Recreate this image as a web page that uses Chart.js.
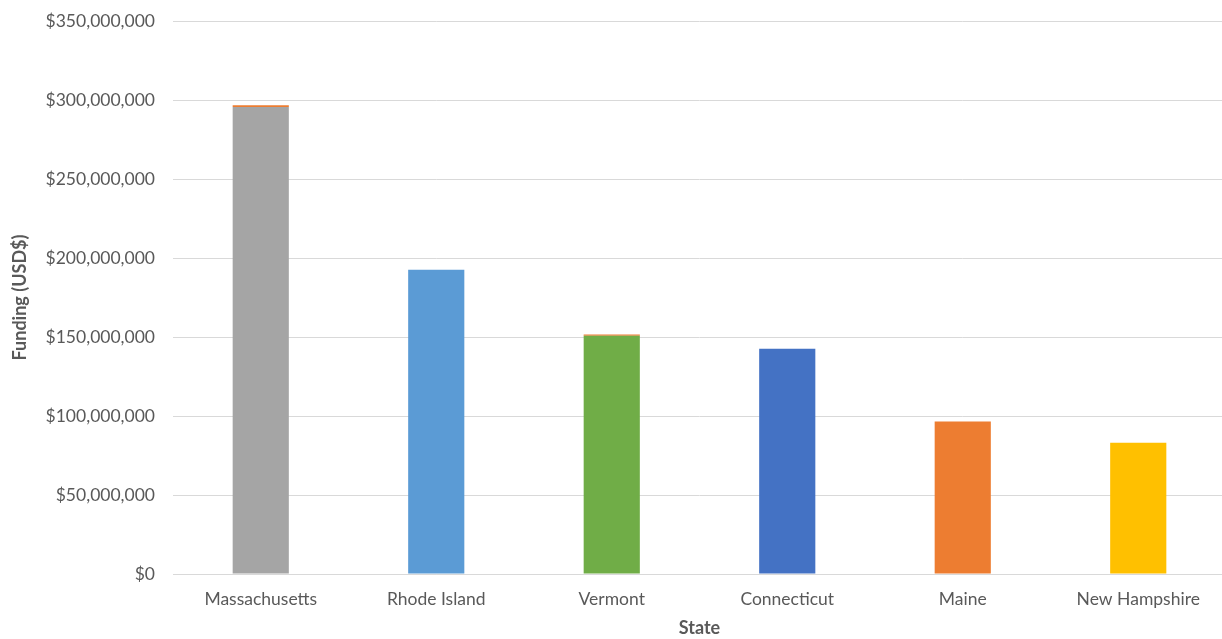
<!DOCTYPE html>
<html><head><meta charset="utf-8">
<script src="https://cdn.jsdelivr.net/npm/chart.js@4"></script>
<style>html,body{margin:0;padding:0;overflow:hidden;background:#fff}#wrap{width:1228px;height:639px;position:relative}</style>
</head><body><div id="wrap"><canvas id="c"></canvas></div>
<script>
const states = ["Massachusetts","Rhode Island","Vermont","Connecticut","Maine","New Hampshire"];
const mainFunding = [295500000, 192500000, 150800000, 142500000, 96500000, 83000000];
const otherFunding = [1200000, 0, 800000, 0, 0, 0];
const mainColors = ["#A5A5A5","#5B9BD5","#70AD47","#4472C4","#ED7D31","#FFC000"];
const yTicks = [0,50000000,100000000,150000000,200000000,250000000,300000000,350000000];

const font = "Lato, sans-serif";
new Chart(document.getElementById('c'), {
  type: 'bar',
  data: {
    labels: states,
    datasets: [
      {label:'Main', data: mainFunding, backgroundColor: mainColors, barPercentage: 0.32, categoryPercentage: 1.0},
      {label:'Other', data: otherFunding, backgroundColor: '#ED7D31', barPercentage: 0.32, categoryPercentage: 1.0}
    ]
  },
  options: {
    responsive: true, maintainAspectRatio: false, animation: false,
    layout: {padding: {top: 21, right: 2, bottom: 0, left: 0}},
    plugins: {legend: {display: false}, tooltip: {enabled: false}},
    scales: {
      x: {
        stacked: true,
        afterFit: s => { s.height = 65; },
        grid: {display: false, drawTicks: false},
        border: {display: true, color: '#D9D9D9', width: 1},
        ticks: {color: '#595959', font: {family: font, size: 17.5}, padding: 15},
        title: {display: true, text: 'State', color: '#595959', font: {family: font, size: 18, weight: 'bold'}, padding: {top: 0, bottom: 0}}
      },
      y: {
        stacked: true,
        min: 0, max: 350000000,
        afterBuildTicks: s => { s.ticks = yTicks.map(v => ({value: v})); },
        afterFit: s => { s.width = 173; s.paddingTop = 0; s.paddingBottom = 0; },
        grid: {color: '#D9D9D9', drawTicks: false},
        border: {display: false},
        ticks: {color: '#595959', font: {family: font, size: 17.5}, padding: 18,
          callback: v => '$' + Number(v).toLocaleString('en-US')},
        title: {display: true, text: 'Funding (USD$)', color: '#595959', font: {family: font, size: 18, weight: 'bold'}, padding: {top: 9, bottom: 0}}
      }
    }
  }
});
</script></body></html>
